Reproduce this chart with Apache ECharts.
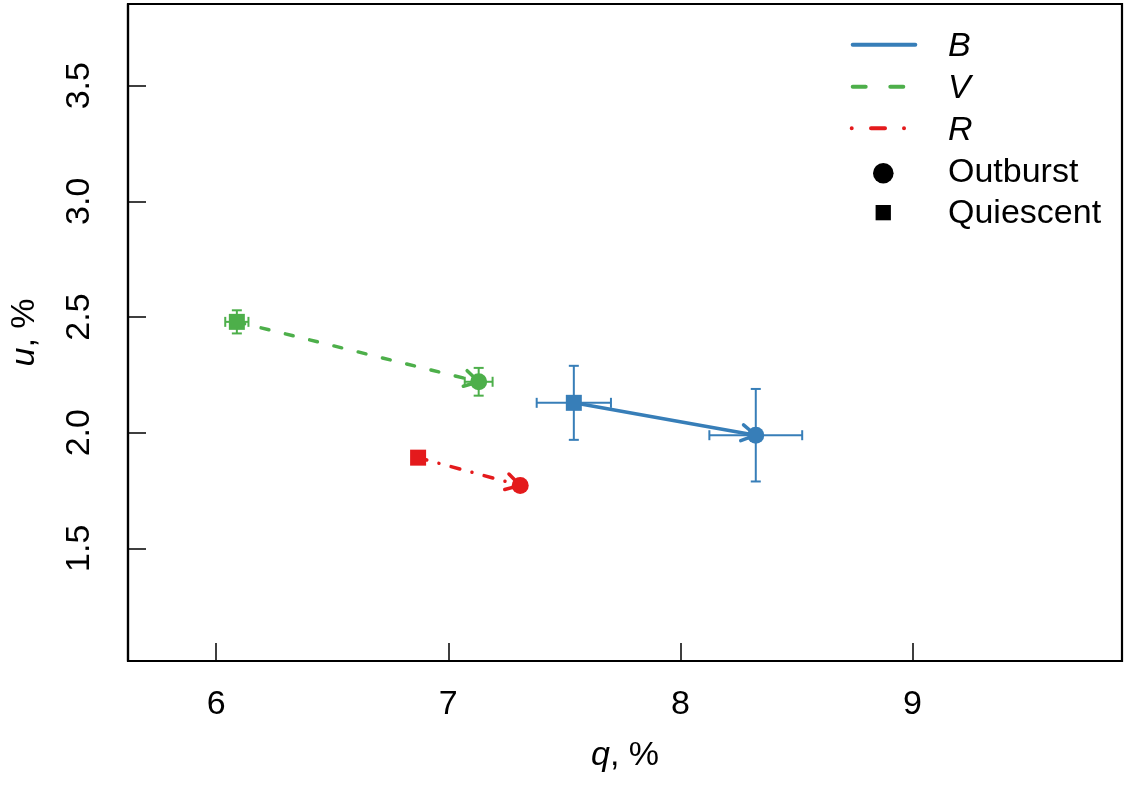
<!DOCTYPE html>
<html>
<head>
<meta charset="utf-8">
<script src="https://cdn.jsdelivr.net/npm/echarts@6/dist/echarts.min.js"></script>
<style>
    html, body { margin: 0; padding: 0; background: #fff; }
    #chart { width: 1125px; height: 788px; }
</style>
</head>
<body>
<div id="chart"></div>
<script>
// 数据
var bands = ['B', 'V', 'R'];
var outburstQ = [8.325, 7.131, 7.310];
var outburstU = [1.989, 2.220, 1.772];
var outburstQErr = [0.20, 0.06, 0];
var outburstUErr = [0.20, 0.06, 0];
var quiescentQ = [7.541, 6.089, 6.870];
var quiescentU = [2.129, 2.479, 1.892];
var quiescentQErr = [0.16, 0.05, 0];
var quiescentUErr = [0.16, 0.05, 0];
var xTicks = [6, 7, 8, 9];
var yTicks = [1.5, 2.0, 2.5, 3.0, 3.5];
var stateNames = ['Outburst', 'Quiescent'];

// 样式
var colors = ['#377EB8', '#4DAF4A', '#E41A1C'];
var dashes = [null, [8, 17], [9, 12.6, 0.01, 12.6]];
var legendDashes = [null, [13, 24.6], [0.01, 19.3, 14, 19]];
var FONT = '"Liberation Sans", Arial, Helvetica, sans-serif';
var FS = 34;

var chart = echarts.init(document.getElementById('chart'));

// 箭头：静止 -> 爆发
function arrowRender(idx) {
    return function (params, api) {
        var p0 = api.coord([api.value(0), api.value(1)]);
        var p1 = api.coord([api.value(2), api.value(3)]);
        var ang = Math.atan2(p1[1] - p0[1], p1[0] - p0[0]);
        var len = 16, spread = Math.PI / 6;
        var b1 = [p1[0] - len * Math.cos(ang - spread), p1[1] - len * Math.sin(ang - spread)];
        var b2 = [p1[0] - len * Math.cos(ang + spread), p1[1] - len * Math.sin(ang + spread)];
        return {
            type: 'group',
            children: [{
                type: 'line',
                shape: { x1: p0[0], y1: p0[1], x2: p1[0], y2: p1[1] },
                style: { stroke: colors[idx], lineWidth: 3.5, lineDash: dashes[idx], lineCap: 'round', fill: null }
            }, {
                type: 'polyline',
                shape: { points: [b1, p1, b2] },
                style: { stroke: colors[idx], lineWidth: 3.5, lineCap: 'round', lineJoin: 'round', fill: null }
            }]
        };
    };
}

// 误差棒
function errRender(idx) {
    return function (params, api) {
        var q = api.value(0), u = api.value(1), qe = api.value(2), ue = api.value(3);
        var cap = 5;
        var style = { stroke: colors[idx], lineWidth: 2, fill: null };
        var children = [];
        if (qe > 0) {
            var l = api.coord([q - qe, u]), r = api.coord([q + qe, u]);
            children.push({ type: 'line', shape: { x1: l[0], y1: l[1], x2: r[0], y2: r[1] }, style: style });
            children.push({ type: 'line', shape: { x1: l[0], y1: l[1] - cap, x2: l[0], y2: l[1] + cap }, style: style });
            children.push({ type: 'line', shape: { x1: r[0], y1: r[1] - cap, x2: r[0], y2: r[1] + cap }, style: style });
        }
        if (ue > 0) {
            var t = api.coord([q, u + ue]), b = api.coord([q, u - ue]);
            children.push({ type: 'line', shape: { x1: t[0], y1: t[1], x2: b[0], y2: b[1] }, style: style });
            children.push({ type: 'line', shape: { x1: t[0] - cap, y1: t[1], x2: t[0] + cap, y2: t[1] }, style: style });
            children.push({ type: 'line', shape: { x1: b[0] - cap, y1: b[1], x2: b[0] + cap, y2: b[1] }, style: style });
        }
        return { type: 'group', children: children };
    };
}

var series = [];
bands.forEach(function (band, i) {
    series.push({
        type: 'custom',
        name: band + ' arrow',
        renderItem: arrowRender(i),
        encode: { x: [0, 2], y: [1, 3] },
        data: [[quiescentQ[i], quiescentU[i], outburstQ[i], outburstU[i]]],
        z: 2,
        silent: true
    });
    series.push({
        type: 'custom',
        name: band + ' err',
        renderItem: errRender(i),
        encode: { x: 0, y: 1 },
        data: [
            [outburstQ[i], outburstU[i], outburstQErr[i], outburstUErr[i]],
            [quiescentQ[i], quiescentU[i], quiescentQErr[i], quiescentUErr[i]]
        ],
        z: 3,
        silent: true
    });
    series.push({
        type: 'scatter',
        name: band + ' ' + stateNames[0],
        symbol: 'circle',
        symbolSize: 17,
        itemStyle: { color: colors[i], opacity: 1 },
        data: [[outburstQ[i], outburstU[i]]],
        z: 4
    });
    series.push({
        type: 'scatter',
        name: band + ' ' + stateNames[1],
        symbol: 'rect',
        symbolSize: 16,
        itemStyle: { color: colors[i], opacity: 1 },
        data: [[quiescentQ[i], quiescentU[i]]],
        z: 4
    });
});

// 图例（手绘）
var legendGraphic = [];
var lineYs = [44.7, 86.7, 128.3];
bands.forEach(function (band, i) {
    legendGraphic.push({
        type: 'line',
        shape: { x1: i === 2 ? 851.7 : 852.7, y1: lineYs[i], x2: 915.3, y2: lineYs[i] },
        style: { stroke: colors[i], lineWidth: 4, lineCap: 'round', lineDash: legendDashes[i] }
    });
    legendGraphic.push({
        type: 'text',
        x: 948, y: lineYs[i] + 2,
        style: { text: band, font: 'italic ' + FS + 'px ' + FONT, fill: '#000', verticalAlign: 'middle' }
    });
});
legendGraphic.push({
    type: 'circle',
    shape: { cx: 883.3, cy: 173.3, r: 10.3 },
    style: { fill: '#000' }
});
legendGraphic.push({
    type: 'rect',
    shape: { x: 875.6, y: 205, width: 15.3, height: 15.3 },
    style: { fill: '#000' }
});
legendGraphic.push({
    type: 'text', x: 948, y: 172.5,
    style: { text: stateNames[0], font: FS + 'px ' + FONT, fill: '#000', verticalAlign: 'middle' }
});
legendGraphic.push({
    type: 'text', x: 948, y: 214,
    style: { text: stateNames[1], font: FS + 'px ' + FONT, fill: '#000', verticalAlign: 'middle' }
});

var option = {
    backgroundColor: '#fff',
    animation: false,
    textStyle: { fontFamily: FONT },
    grid: {
        left: 126, right: 3, top: 4, bottom: 127,
        show: true, borderColor: '#000', borderWidth: 2.2, backgroundColor: 'transparent'
    },
    xAxis: {
        type: 'value',
        min: 5.620, max: 9.903,
        splitLine: { show: false },
        axisLine: { show: true, onZero: false, lineStyle: { color: '#000', width: 2.2 } },
        axisTick: { show: true, inside: true, length: 18, customValues: xTicks, lineStyle: { color: '#000', width: 1.5 } },
        axisLabel: {
            customValues: xTicks, margin: 27, fontSize: FS, color: '#000', fontFamily: FONT,
            formatter: function (v) { return String(v); }
        },
        name: '{i|q}, %',
        nameLocation: 'middle',
        nameGap: 78,
        nameTextStyle: {
            fontSize: FS, color: '#000', fontFamily: FONT,
            rich: { i: { fontSize: FS, fontStyle: 'italic', color: '#000', fontFamily: FONT } }
        }
    },
    yAxis: {
        type: 'value',
        min: 1.013, max: 3.853,
        splitLine: { show: false },
        axisLine: { show: true, onZero: false, lineStyle: { color: '#000', width: 2.2 } },
        axisTick: { show: true, inside: true, length: 18, customValues: yTicks, lineStyle: { color: '#000', width: 1.5 } },
        axisLabel: {
            customValues: yTicks, rotate: 90, margin: 31, fontSize: FS, color: '#000', fontFamily: FONT,
            formatter: function (v) { return v.toFixed(1); }
        },
        name: '{i|u}, %',
        nameLocation: 'middle',
        nameGap: 86,
        nameTextStyle: {
            fontSize: FS, color: '#000', fontFamily: FONT,
            rich: { i: { fontSize: FS, fontStyle: 'italic', color: '#000', fontFamily: FONT } }
        }
    },
    graphic: legendGraphic,
    series: series
};
chart.setOption(option);

window.addEventListener('resize', function () {
    chart.resize();
});
</script>
</body>
</html>
